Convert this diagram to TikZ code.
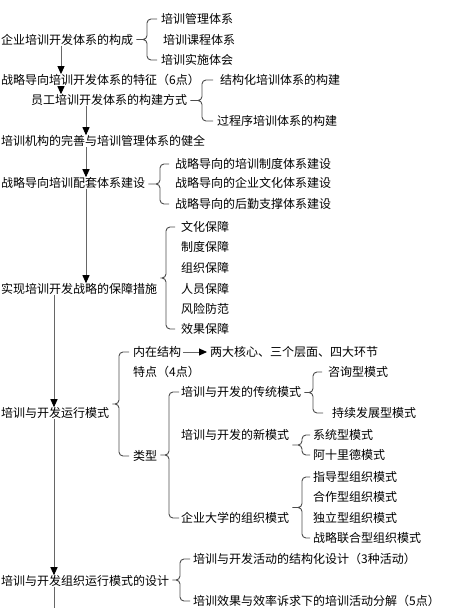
\documentclass[tikz,border=0pt]{standalone}
\usepackage{fontspec}
\setmainfont{Noto Sans CJK SC}
\usetikzlibrary{arrows.meta, calc}

\begin{document}
\begin{tikzpicture}[x=1pt, y=-1pt, font=\fontsize{12}{14}\selectfont,
  item/.style={anchor=west, inner sep=0pt},
  flow/.style={draw=black!60, line width=0.9pt, -{Triangle[color=black, width=7pt, length=8pt]}},
  brace/.style={draw=black!70, line width=0.9pt, rounded corners=4pt}]

\useasboundingbox (0,0) rectangle (464,608);

% columns of the main flow
\coordinate (colA) at (61,0) ;
\coordinate (colB) at (86,0) ;
\coordinate (colC) at (54,0) ;
\coordinate (bottom) at (54,608) ;

% main flow
\node[item] (m1) at (1,40) {企业培训开发体系的构成};
\node[item] (m2) at (1,80) {战略导向培训开发体系的特征（6点）};
\node[item] (m3) at (31,100) {员工培训开发体系的构建方式};
\node[item] (m4) at (1,141) {培训机构的完善与培训管理体系的健全};
\node[item] (m5) at (1,183) {战略导向培训配套体系建设};
\node[item] (m6) at (1,289) {实现培训开发战略的保障措施};
\node[item] (m7) at (1,413) {培训与开发运行模式};
\node[item] (m8) at (1,581) {培训与开发组织运行模式的设计};

\draw[flow] (m1.south -| colA) -- (m2.north -| colA) ;
\draw[flow] (m2.south -| colA) -- (m3.north -| colA) ;
\draw[flow] (m3.south -| colB) -- (m4.north -| colB) ;
\draw[flow] (m4.south -| colB) -- (m5.north -| colB) ;
\draw[flow] (m5.south -| colB) -- (m6.north -| colB) ;
\draw[flow] (m6.south -| colC) -- (m7.north -| colC) ;
\draw[flow] (m7.south -| colC) -- (m8.north -| colC) ;
\draw[draw=black!60, line width=0.9pt] (m8.south -| colC) -- (bottom) ;

% first level branches
\node[item] (a1) at (161,19) {培训管理体系};
\node[item] (a2) at (163,40) {培训课程体系};
\node[item] (a3) at (161,60) {培训实施体会};

\node[item] (b1) at (220,80) {结构化培训体系的构建};
\node[item] (b2) at (217,121) {过程序培训体系的构建};

\node[item] (c1) at (175,164) {战略导向的培训制度体系建设};
\node[item] (c2) at (175,183) {战略导向的企业文化体系建设};
\node[item] (c3) at (175,204) {战略导向的后勤支撑体系建设};

\node[item] (d1) at (181,227) {文化保障};
\node[item] (d2) at (181,247) {制度保障};
\node[item] (d3) at (181,268) {组织保障};
\node[item] (d4) at (181,289) {人员保障};
\node[item] (d5) at (181,309) {风险防范};
\node[item] (d6) at (181,329) {效果保障};

\node[item] (e1) at (133,352) {内在结构};
\node[item] (e2) at (133,372) {特点（4点）};
\node[item] (e3) at (133,456) {类型};
\node[item] (f) at (210,352) {两大核心、三个层面、四大环节};
\draw[flow] ([xshift=2pt]e1.east) -- ([xshift=-3pt]f.west) ;

\node[item] (k1) at (193,559) {培训与开发活动的结构化设计（3种活动）};
\node[item] (k2) at (193,601) {培训效果与效率诉求下的培训活动分解（5点）};

% types
\node[item] (g1) at (181,392) {培训与开发的传统模式};
\node[item] (g2) at (181,435) {培训与开发的新模式};
\node[item] (g3) at (181,518) {企业大学的组织模式};

\node[item] (h1) at (328,372) {咨询型模式};
\node[item] (h2) at (332,413) {持续发展型模式};

\node[item] (i1) at (313,435) {系统型模式};
\node[item] (i2) at (313,455) {阿十里德模式};

\node[item] (j1) at (313,477) {指导型组织模式};
\node[item] (j2) at (313,497) {合作型组织模式};
\node[item] (j3) at (313,518) {独立型组织模式};
\node[item] (j4) at (313,538) {战略联合型组织模式};

% braces
\coordinate (aM) at ($(a1.west)!0.5!(a3.west)$) ;
\draw[brace] ($(a1.west)+(-4,0)$) -| ($(a1.west |- aM)+(-14,0)$) -- ($(m1.east |- aM)+(3,0)$)
  ($(a3.west)+(-4,0)$) -| ($(a1.west |- aM)+(-14,0)$) -- ($(m1.east |- aM)+(3,0)$) ;

\coordinate (bM) at ($(b1.west)!0.5!(b2.west)$) ;
\draw[brace] ($(b1.west)+(-7,0)$) -| ($(b2.west |- bM)+(-15,0)$) -- ($(m3.east |- bM)+(3,0)$)
  ($(b2.west)+(-4,0)$) -| ($(b2.west |- bM)+(-15,0)$) -- ($(m3.east |- bM)+(3,0)$) ;

\coordinate (cM) at ($(c1.west)!0.5!(c3.west)$) ;
\draw[brace] ($(c1.west)+(-6,0)$) -| ($(c1.west |- cM)+(-15,0)$) -- ($(m5.east |- cM)+(3,0)$)
  ($(c3.west)+(-6,0)$) -| ($(c1.west |- cM)+(-15,0)$) -- ($(m5.east |- cM)+(3,0)$) ;

\coordinate (dM) at ($(d1.west)!0.5!(d6.west)$) ;
\draw[brace] ($(d1.west)+(-6,0)$) -| ($(d1.west |- dM)+(-15,0)$) -- ($(m6.east |- dM)+(3,0)$)
  ($(d6.west)+(-6,0)$) -| ($(d1.west |- dM)+(-15,0)$) -- ($(m6.east |- dM)+(3,0)$) ;

\coordinate (eM) at ($(e1.west)!0.5!(e3.west)$) ;
\draw[brace] ($(e1.west)+(-4,0)$) -| ($(e1.west |- eM)+(-14,0)$) -- ($(m7.east |- eM)+(3,0)$)
  ($(e3.west)+(-4,0)$) -| ($(e1.west |- eM)+(-14,0)$) -- ($(m7.east |- eM)+(3,0)$) ;

\coordinate (gM) at ($(g1.west)!0.5!(g3.west)$) ;
\draw[brace] ($(g1.west)+(-2,0)$) -| ($(g1.west |- gM)+(-12,0)$) -- ($(e3.east |- gM)+(3,0)$)
  ($(g3.west)+(-2,0)$) -| ($(g1.west |- gM)+(-12,0)$) -- ($(e3.east |- gM)+(3,0)$) ;

\coordinate (hM) at ($(h1.west)!0.5!(h2.west)$) ;
\draw[brace] ($(h1.west)+(-6,0)$) -| ($(h1.west |- hM)+(-15,0)$) -- ($(g1.east |- hM)+(3,0)$)
  ($(h2.west)+(-9,0)$) -| ($(h1.west |- hM)+(-15,0)$) -- ($(g1.east |- hM)+(3,0)$) ;

\coordinate (iM) at ($(i1.west)!0.5!(i2.west)$) ;
\draw[brace] ($(i1.west)+(-3,0)$) -| ($(i1.west |- iM)+(-11,0)$) -- ($(g2.east |- iM)+(3,0)$)
  ($(i2.west)+(-3,0)$) -| ($(i1.west |- iM)+(-11,0)$) -- ($(g2.east |- iM)+(3,0)$) ;

\coordinate (jM) at ($(j1.west)!0.5!(j4.west)$) ;
\draw[brace] ($(j1.west)+(-3,0)$) -| ($(j1.west |- jM)+(-11,0)$) -- ($(g3.east |- jM)+(3,0)$)
  ($(j4.west)+(-3,0)$) -| ($(j1.west |- jM)+(-11,0)$) -- ($(g3.east |- jM)+(3,0)$) ;

\coordinate (kM) at ($(k1.west)!0.5!(k2.west)$) ;
\draw[brace] ($(k1.west)+(-3,0)$) -| ($(k1.west |- kM)+(-13,0)$) -- ($(m8.east |- kM)+(3,0)$)
  ($(k2.west)+(-3,0)$) -| ($(k1.west |- kM)+(-13,0)$) -- ($(m8.east |- kM)+(3,0)$) ;

\end{tikzpicture}
\end{document}
